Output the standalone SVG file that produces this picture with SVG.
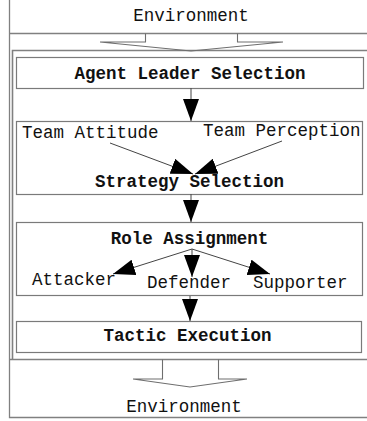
<svg xmlns="http://www.w3.org/2000/svg" width="367" height="421" viewBox="0 0 367 421">
<style>
.frame{fill:none;stroke:#808080;stroke-width:1.3}
.box{fill:#fff;stroke:#7a7a7a;stroke-width:1.2}
.fat{fill:none;stroke:#6e6e6e;stroke-width:1.1;stroke-linejoin:miter}
.t{font-family:"Liberation Mono","Courier New",monospace;font-size:17.5px;fill:#111}
.b{font-weight:bold}
.c{text-anchor:middle}
.con{stroke:#444;stroke-width:1;fill:none;marker-end:url(#ah)}
</style>
<defs>
<marker id="ah" markerUnits="userSpaceOnUse" markerWidth="22" markerHeight="16" refX="22" refY="8" orient="auto">
<path d="M0,0 L22,8 L0,16 Z" fill="#000"/>
</marker>
</defs>
<rect width="367" height="421" fill="#fff"/>
<g id="frame">
<path class="frame" d="M9.5,0 V417.5 H367 M9.5,33.5 H367"/>
<path class="frame" d="M12.5,359.5 V50.5 H370 M10,359.5 H370" style="stroke-width:1.6"/>
</g>
<g id="env-top">
<text class="t c" x="191" y="21">Environment</text>
<polyline class="fat" points="145.5,33.5 145.5,42 100,42 191,51 283,42 237.5,42 237.5,33.5"/>
</g>
<g id="agent-leader">
<rect class="box" x="16.5" y="57.5" width="347" height="31"/>
<text class="t b c" x="190" y="79">Agent Leader Selection</text>
</g>
<g id="strategy">
<rect class="box" x="16.5" y="121.5" width="346" height="73"/>
<text class="t" x="22" y="138">Team Attitude</text>
<text class="t" x="203" y="136">Team Perception</text>
<text class="t b c" x="189.5" y="187">Strategy Selection</text>
</g>
<g id="role">
<rect class="box" x="16.5" y="222.5" width="346" height="73"/>
<text class="t b c" x="189.5" y="244">Role Assignment</text>
<text class="t" x="32" y="285">Attacker</text>
<text class="t" x="147" y="288">Defender</text>
<text class="t" x="253" y="288">Supporter</text>
</g>
<g id="tactic">
<rect class="box" x="16.5" y="321.5" width="345" height="31"/>
<text class="t b c" x="187.5" y="341">Tactic Execution</text>
</g>
<g id="env-bottom">
<polyline class="fat" points="162.5,359.5 162.5,379 133,379 190,387 247,379 218.5,379 218.5,359.5"/>
<text class="t c" x="184" y="412">Environment</text>
</g>
<g id="connectors">
<line class="con" x1="191" y1="88" x2="191" y2="121"/>
<line class="con" x1="110" y1="143" x2="193" y2="174"/>
<line class="con" x1="282" y1="141" x2="195" y2="174"/>
<line class="con" x1="191" y1="194" x2="191" y2="222"/>
<line class="con" x1="192" y1="249" x2="113" y2="274"/>
<line class="con" x1="192" y1="249" x2="192" y2="277"/>
<line class="con" x1="192" y1="249" x2="270" y2="274"/>
<line class="con" x1="190" y1="296" x2="190" y2="321"/>
</g>
</svg>
